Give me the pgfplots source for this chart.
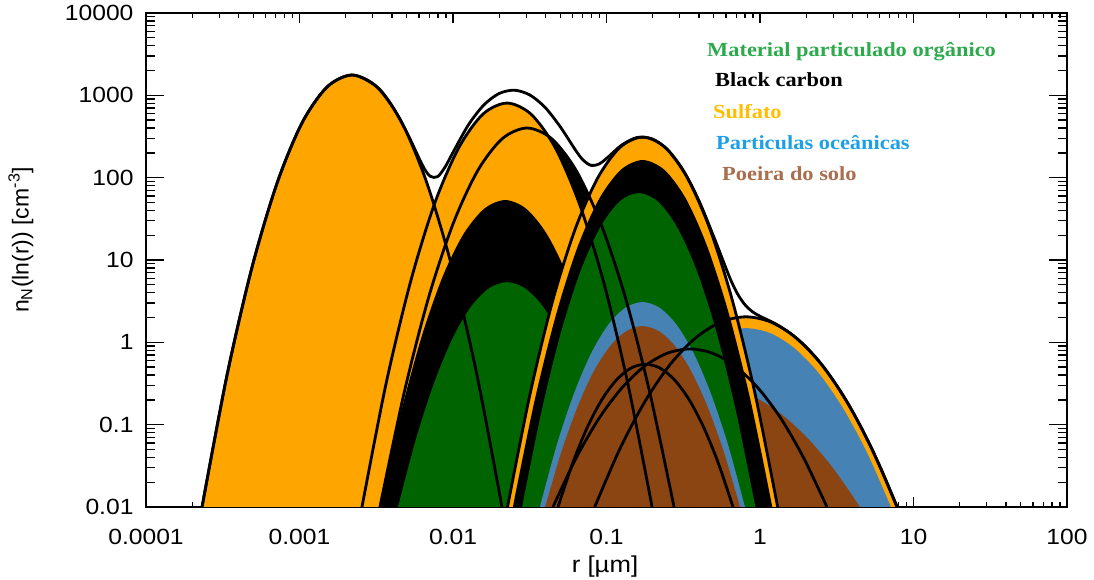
\documentclass[border=0pt]{standalone}
\usepackage{fontspec}
\setmainfont{Liberation Sans}
\newfontfamily\legfont{Liberation Serif}
\usepackage{graphicx}
\usepackage{pgfplots}
\pgfplotsset{compat=1.18}
\newcommand{\hs}[1]{\scalebox{1.12}[1]{#1}}
\definecolor{cOr}{RGB}{255,165,0}
\definecolor{cGr}{RGB}{0,100,0}
\definecolor{cBl}{RGB}{70,130,180}
\definecolor{cBr}{RGB}{139,69,19}
\definecolor{tGr}{RGB}{44,170,76}
\definecolor{tOr}{RGB}{255,190,0}
\definecolor{tBl}{RGB}{30,160,230}
\definecolor{tBr}{RGB}{168,110,78}
\begin{document}
\begin{tikzpicture}
\useasboundingbox (0pt,0pt) rectangle (1094pt,580pt);
\begin{axis}[
  at={(146pt,73pt)}, anchor=south west,
  scale only axis, width=921pt, height=494pt,
  xmin=-4, xmax=2, ymin=-2, ymax=4,
  xtick={-4,-3,-2,-1,0,1,2},
  xticklabels={\hs{0.0001},\hs{0.001},\hs{0.01},\hs{0.1},\hs{1},\hs{10},\hs{100}},
  ytick={-2,-1,0,1,2,3,4},
  yticklabels={\hs{0.01},\hs{0.1},\hs{1},\hs{10},\hs{100},\hs{1000},\hs{10000}},
  minor xtick={-3.699,-3.523,-3.398,-3.301,-3.222,-3.155,-3.097,-3.046,
               -2.699,-2.523,-2.398,-2.301,-2.222,-2.155,-2.097,-2.046,
               -1.699,-1.523,-1.398,-1.301,-1.222,-1.155,-1.097,-1.046,
               -0.699,-0.523,-0.398,-0.301,-0.222,-0.155,-0.097,-0.046,
               0.301,0.477,0.602,0.699,0.778,0.845,0.903,0.954,
               1.301,1.477,1.602,1.699,1.778,1.845,1.903,1.954},
  minor ytick={-1.699,-1.523,-1.398,-1.301,-1.222,-1.155,-1.097,-1.046,
               -0.699,-0.523,-0.398,-0.301,-0.222,-0.155,-0.097,-0.046,
               0.301,0.477,0.602,0.699,0.778,0.845,0.903,0.954,
               1.301,1.477,1.602,1.699,1.778,1.845,1.903,1.954,
               2.301,2.477,2.602,2.699,2.778,2.845,2.903,2.954,
               3.301,3.477,3.602,3.699,3.778,3.845,3.903,3.954},
  tick align=inside, tick pos=both,
  xticklabel pos=lower, yticklabel pos=left,
  major tick length=18pt, minor tick length=9pt,
  xtick style={/pgfplots/major tick length=10pt,/pgfplots/minor tick length=5pt},
  every tick/.style={black, line width=1.3pt},
  axis line style={line width=2pt},
  tick label style={font=\fontsize{22}{26}\selectfont},
  xticklabel style={yshift=-19pt},
  yticklabel style={xshift=-9pt},
]
% --- fills ---
\addplot[fill=cOr, draw=none, smooth] coordinates {(-3.635,-2) (-3.472,-0.397) (-3.309,0.915) (-3.146,1.935) (-2.984,2.664) (-2.821,3.101) (-2.658,3.247) (-2.495,3.101) (-2.332,2.664) (-2.170,1.935) (-2.007,0.915) (-1.844,-0.397) (-1.681,-2)};
\addplot[fill=black, draw=none, smooth] coordinates {(-2.476,-2) (-2.316,-0.594) (-2.157,0.557) (-1.997,1.452) (-1.837,2.092) (-1.678,2.475) (-1.518,2.603) (-1.358,2.475) (-1.199,2.092) (-1.039,1.452) (-0.879,0.557) (-0.720,-0.594) (-0.560,-2)};
\addplot[fill=cOr, draw=none, smooth] coordinates {(-2.593,-2) (-2.436,-0.501) (-2.278,0.726) (-2.121,1.680) (-1.963,2.361) (-1.806,2.770) (-1.648,2.906) (-1.491,2.770) (-1.333,2.361) (-1.176,1.680) (-1.018,0.726) (-0.861,-0.501) (-0.703,-2)};
\addplot[fill=black, draw=none, smooth] coordinates {(-2.476,-2) (-2.340,-0.861) (-2.204,0.071) (-2.068,0.796) (-1.932,1.314) (-1.796,1.624) (-1.660,1.728) (-1.524,1.624) (-1.388,1.314) (-1.252,0.796) (-1.116,0.071) (-0.980,-0.861) (-0.844,-2)};
\addplot[fill=cGr, draw=none, smooth] coordinates {(-2.358,-2) (-2.240,-1.166) (-2.121,-0.483) (-2.003,0.048) (-1.885,0.428) (-1.766,0.655) (-1.648,0.731) (-1.530,0.655) (-1.411,0.428) (-1.293,0.048) (-1.175,-0.483) (-1.056,-1.166) (-0.938,-2)};
\addplot[fill=cOr, draw=none, smooth] coordinates {(-1.077,-2) (-0.913,-1.294) (-0.749,-0.717) (-0.585,-0.268) (-0.420,0.053) (-0.256,0.246) (-0.092,0.310) (0.072,0.246) (0.236,0.053) (0.401,-0.268) (0.565,-0.717) (0.729,-1.294) (0.893,-2)};
\addplot[fill=cBl, draw=none, smooth] coordinates {(-1.037,-2) (-0.880,-1.336) (-0.722,-0.793) (-0.565,-0.371) (-0.407,-0.069) (-0.250,0.112) (-0.092,0.172) (0.066,0.112) (0.223,-0.069) (0.381,-0.371) (0.538,-0.793) (0.696,-1.336) (0.853,-2)};
\addplot[fill=cBr, draw=none, smooth] coordinates {(-1.363,-2) (-1.195,-1.546) (-1.027,-1.174) (-0.860,-0.886) (-0.692,-0.679) (-0.524,-0.555) (-0.356,-0.514) (-0.188,-0.555) (-0.020,-0.679) (0.148,-0.886) (0.315,-1.174) (0.483,-1.546) (0.651,-2)};
\addplot[fill=cOr, draw=none, smooth] coordinates {(-1.645,-2) (-1.498,-0.627) (-1.352,0.496) (-1.205,1.370) (-1.058,1.994) (-0.912,2.368) (-0.765,2.493) (-0.618,2.368) (-0.472,1.994) (-0.325,1.370) (-0.178,0.496) (-0.032,-0.627) (0.115,-2)};
\addplot[fill=black, draw=none, smooth] coordinates {(-1.610,-2) (-1.469,-0.712) (-1.328,0.341) (-1.188,1.161) (-1.047,1.746) (-0.906,2.097) (-0.765,2.214) (-0.624,2.097) (-0.483,1.746) (-0.343,1.161) (-0.202,0.341) (-0.061,-0.712) (0.080,-2)};
\addplot[fill=cGr, draw=none, smooth] coordinates {(-1.550,-2) (-1.423,-0.835) (-1.297,0.118) (-1.170,0.860) (-1.043,1.389) (-0.917,1.707) (-0.790,1.813) (-0.663,1.707) (-0.537,1.389) (-0.410,0.860) (-0.283,0.118) (-0.157,-0.835) (-0.030,-2)};
\addplot[fill=cBl, draw=none, smooth] coordinates {(-1.434,-2) (-1.323,-1.239) (-1.211,-0.617) (-1.100,-0.133) (-0.989,0.213) (-0.877,0.421) (-0.766,0.490) (-0.655,0.421) (-0.543,0.213) (-0.432,-0.133) (-0.321,-0.617) (-0.209,-1.239) (-0.098,-2)};
\addplot[fill=cBr, draw=none, smooth] coordinates {(-1.400,-2) (-1.294,-1.329) (-1.188,-0.780) (-1.083,-0.352) (-0.977,-0.047) (-0.871,0.136) (-0.765,0.197) (-0.659,0.136) (-0.553,-0.047) (-0.448,-0.352) (-0.342,-0.780) (-0.236,-1.329) (-0.130,-2)};
% --- outlines ---
\addplot[black, line width=2.8pt, smooth] coordinates {(-3.635,-2) (-3.472,-0.397) (-3.309,0.915) (-3.146,1.935) (-2.984,2.664) (-2.821,3.101) (-2.658,3.247) (-2.495,3.101) (-2.332,2.664) (-2.170,1.935) (-2.007,0.915) (-1.844,-0.397) (-1.681,-2)};
\addplot[black, line width=2.8pt, smooth] coordinates {(-2.593,-2) (-2.436,-0.501) (-2.278,0.726) (-2.121,1.680) (-1.963,2.361) (-1.806,2.770) (-1.648,2.906) (-1.491,2.770) (-1.333,2.361) (-1.176,1.680) (-1.018,0.726) (-0.861,-0.501) (-0.703,-2)};
\addplot[black, line width=2.8pt, smooth] coordinates {(-2.476,-2) (-2.316,-0.594) (-2.157,0.557) (-1.997,1.452) (-1.837,2.092) (-1.678,2.475) (-1.518,2.603) (-1.358,2.475) (-1.199,2.092) (-1.039,1.452) (-0.879,0.557) (-0.720,-0.594) (-0.560,-2)};
\addplot[black, line width=2.8pt, smooth] coordinates {(-1.645,-2) (-1.498,-0.627) (-1.352,0.496) (-1.205,1.370) (-1.058,1.994) (-0.912,2.368) (-0.765,2.493) (-0.618,2.368) (-0.472,1.994) (-0.325,1.370) (-0.178,0.496) (-0.032,-0.627) (0.115,-2)};
\addplot[black, line width=2.8pt, smooth] coordinates {(-1.077,-2) (-0.913,-1.294) (-0.749,-0.717) (-0.585,-0.268) (-0.420,0.053) (-0.256,0.246) (-0.092,0.310) (0.072,0.246) (0.236,0.053) (0.401,-0.268) (0.565,-0.717) (0.729,-1.294) (0.893,-2)};
\addplot[black, line width=2.8pt, smooth] coordinates {(-1.316,-2) (-1.221,-1.470) (-1.126,-1.036) (-1.031,-0.699) (-0.936,-0.458) (-0.841,-0.313) (-0.746,-0.265) (-0.651,-0.313) (-0.556,-0.458) (-0.461,-0.699) (-0.366,-1.036) (-0.271,-1.470) (-0.176,-2)};
\addplot[black, line width=2.8pt, smooth] coordinates {(-1.349,-2) (-1.200,-1.413) (-1.052,-0.933) (-0.903,-0.560) (-0.754,-0.293) (-0.605,-0.133) (-0.457,-0.080) (-0.308,-0.133) (-0.159,-0.293) (-0.010,-0.560) (0.139,-0.933) (0.287,-1.413) (0.436,-2)};
% --- total envelope ---
\addplot[black, line width=2.8pt, smooth] coordinates {(-3.635,-2) (-3.472,-0.397) (-3.309,0.915) (-3.146,1.935) (-2.984,2.664) (-2.821,3.101) (-2.658,3.247) (-2.5,3.110) (-2.4,2.881) (-2.3,2.548) (-2.2,2.155) (-2.15,2.019) (-2.1,2.013) (-2.05,2.134) (-2.0,2.307) (-1.9,2.640) (-1.8,2.881) (-1.7,3.022) (-1.6,3.062) (-1.5,3.005) (-1.4,2.853) (-1.3,2.615) (-1.2,2.329) (-1.15,2.209) (-1.1,2.149) (-1.05,2.164) (-1.0,2.233) (-0.9,2.397) (-0.8,2.488) (-0.7,2.469) (-0.6,2.336) (-0.5,2.089) (-0.4,1.730) (-0.3,1.277) (-0.2,0.799) (-0.15,0.601) (-0.1,0.461) (-0.05,0.373) (0.0,0.317) (0.1,0.226) (0.2,0.107) (0.3,-0.056) (0.4,-0.266) (0.5,-0.525) (0.6,-0.830) (0.7,-1.184) (0.8,-1.585) (0.893,-2)};
\end{axis}
\node[font=\fontsize{23}{27}\selectfont] at (605pt,13pt) {\hs{r [µm]}};
\node[rotate=90, font=\fontsize{23}{27}\selectfont] at (21pt,340pt) {n\textsubscript{N}(ln(r)) [cm\textsuperscript{-3}]};
\begin{scope}[every node/.style={anchor=west, inner sep=0pt, font=\legfont\bfseries\fontsize{20}{24}\selectfont}]
\node[text=tGr] at (707pt,528pt) {\hs{Material particulado orgânico}};
\node[text=black] at (715pt,500pt) {\hs{Black carbon}};
\node[text=tOr] at (713pt,468pt) {\hs{Sulfato}};
\node[text=tBl] at (716pt,437pt) {\hs{Particulas oceânicas}};
\node[text=tBr] at (722pt,406pt) {\hs{Poeira do solo}};
\end{scope}
\end{tikzpicture}
\end{document}
